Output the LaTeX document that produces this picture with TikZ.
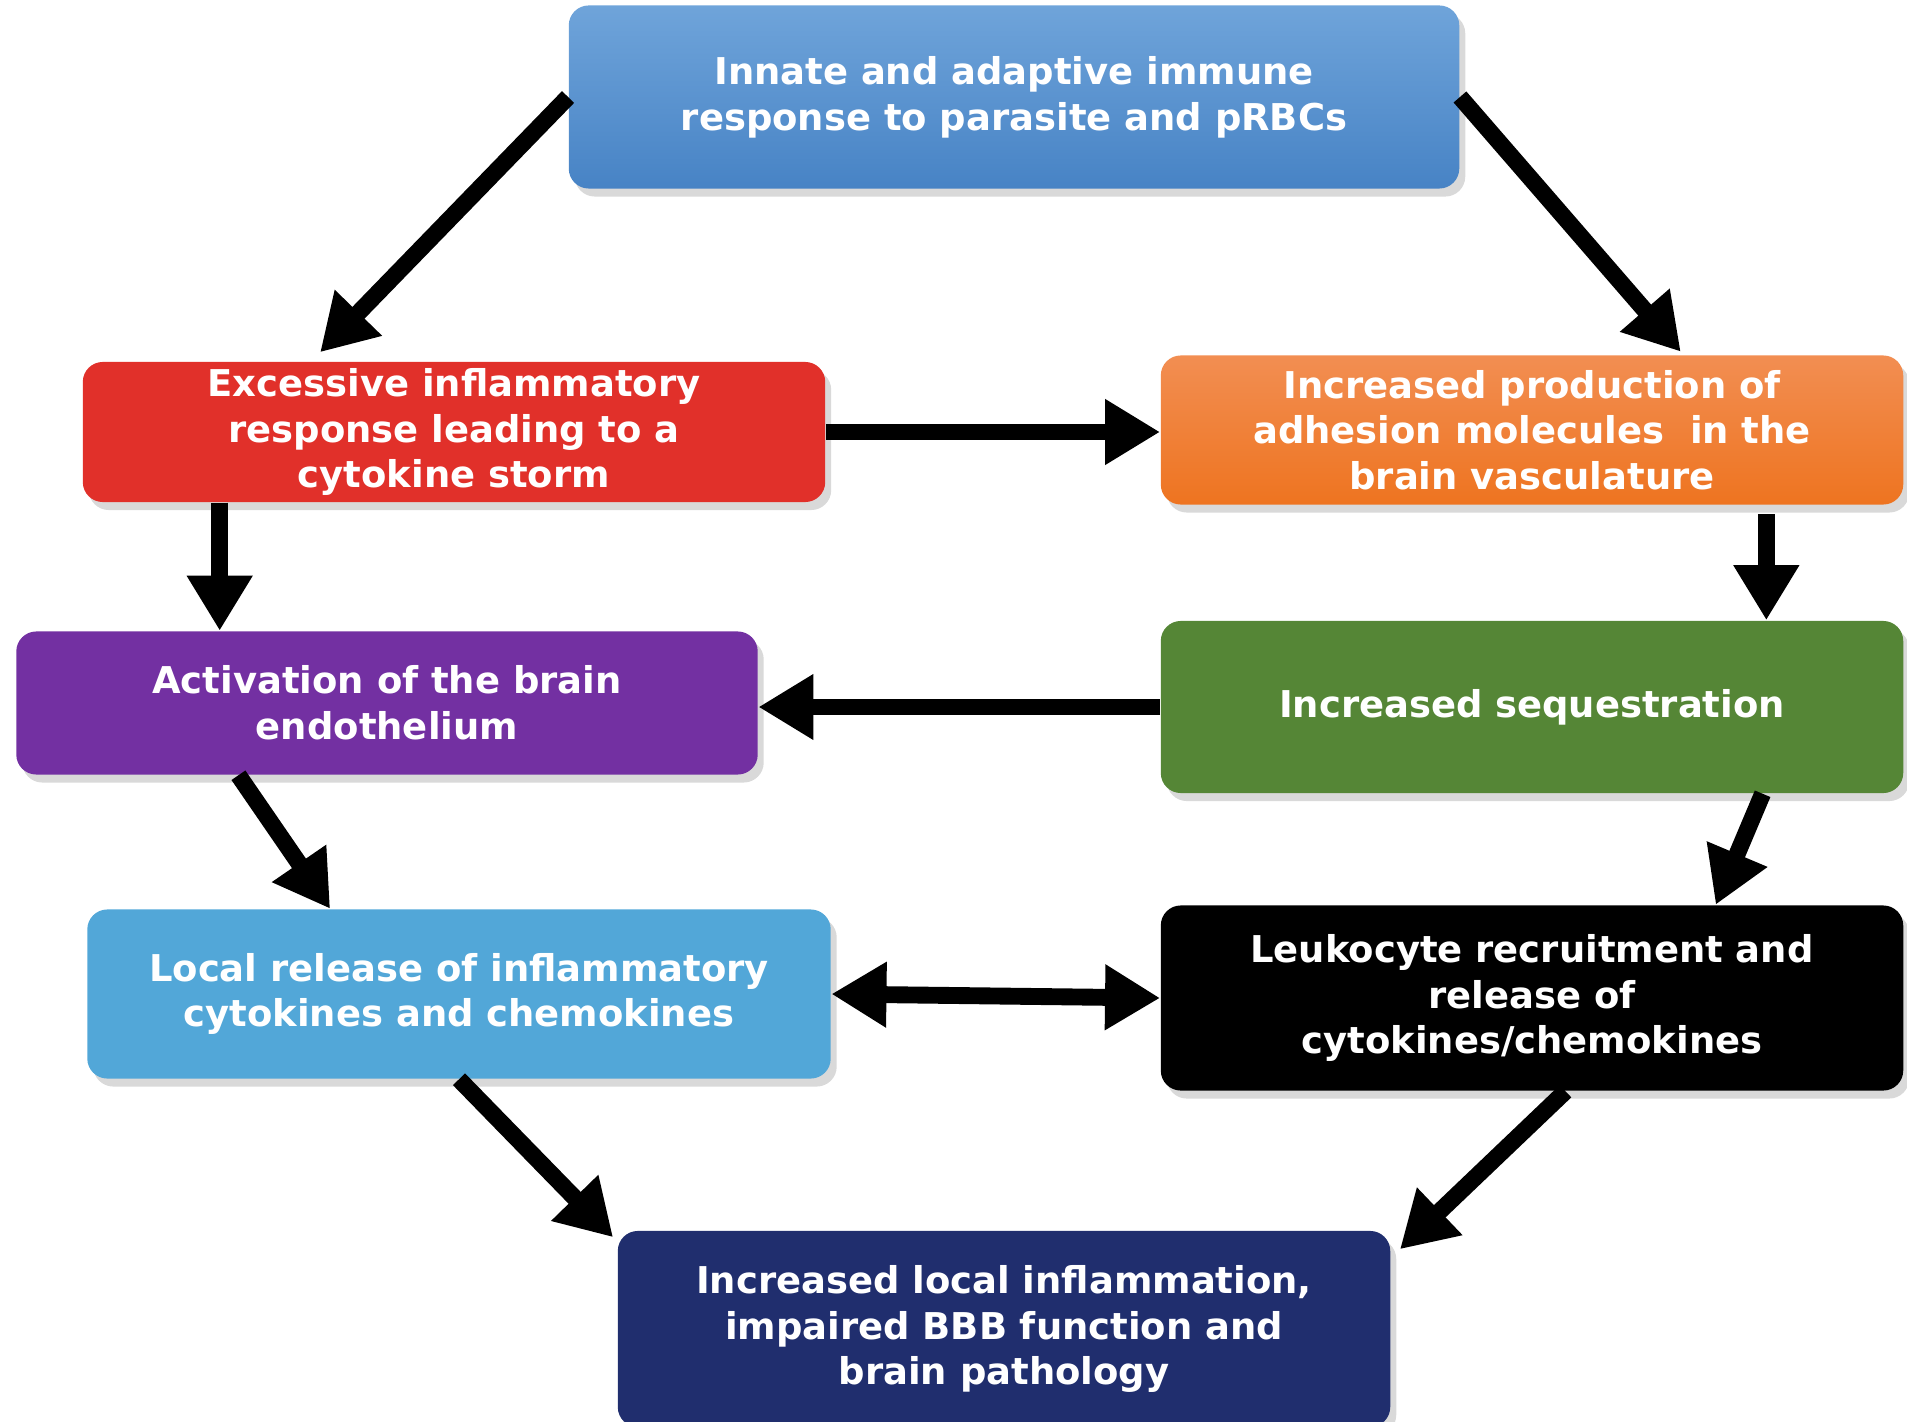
\documentclass[tikz,border=0pt]{standalone}
\usepackage{fontspec}
\setmainfont{DejaVu Sans}
\usetikzlibrary{positioning, calc, shadows, arrows.meta}
\definecolor{topblueA}{HTML}{6FA4DA}
\definecolor{topblueB}{HTML}{4783C5}
\definecolor{stormred}{HTML}{E1302A}
\definecolor{orangeA}{HTML}{F28E52}
\definecolor{orangeB}{HTML}{EE7420}
\definecolor{endopurple}{HTML}{7330A2}
\definecolor{seqgreen}{HTML}{558636}
\definecolor{localblue}{HTML}{52A7D8}
\definecolor{bbbnavy}{HTML}{202E6E}
\tikzset{box/.style={rounded corners=0.2cm, text=white, align=center, inner sep=0pt,
    font=\fontsize{10.5}{13}\selectfont\bfseries,
    drop shadow={opacity=0.3, shadow xshift=0.06cm, shadow yshift=-0.08cm}}}
\tikzset{link/.style={line width=4.8pt, -{Triangle[width=0.62cm, length=0.55cm]}}}
\begin{document}
\begin{tikzpicture}[x=0.01cm, y=-0.01cm]
		\useasboundingbox (0, 0) rectangle (1907, 1422);
		\begin{scope}[every node/.append style={box}]
			\node[top color=topblueA, bottom color=topblueB, minimum width=8.9cm, minimum height=1.83cm] (0) at (1014, 97) {Innate and adaptive immune\\response to parasite and pRBCs};
			\node[fill=stormred, minimum width=7.42cm, minimum height=1.4cm] (1) at (454, 432) {Excessive inflammatory\\response leading to a\\cytokine storm};
			\node[top color=orangeA, bottom color=orangeB, minimum width=7.42cm, minimum height=1.49cm] (2) at (1532, 430) {Increased production of\\adhesion molecules\ \ in the\\brain vasculature};
			\node[fill=endopurple, minimum width=7.41cm, minimum height=1.43cm] (3) at (387, 703) {Activation of the brain\\endothelium};
			\node[fill=seqgreen, minimum width=7.42cm, minimum height=1.72cm] (4) at (1532, 707) {Increased sequestration};
			\node[fill=localblue, minimum width=7.43cm, minimum height=1.69cm] (5) at (459, 994) {Local release of inflammatory\\cytokines and chemokines};
			\node[fill=black, minimum width=7.42cm, minimum height=1.85cm] (6) at (1532, 998) {Leukocyte recruitment and\\release of\\cytokines/chemokines};
			\node[fill=bbbnavy, minimum width=7.72cm, minimum height=1.96cm] (7) at (1004, 1329) {Increased local inflammation,\\impaired BBB function and\\brain pathology};
		\end{scope}

		\draw[link] (0.west) -- ($(1.north west)!0.32!(1.north east)+(0,-9)$);
		\draw[link] (0.east) -- ($(2.north west)!0.70!(2.north east)+(0,-3)$);
		\draw[link] (1.east) -- (2.west |- 1.east);
		\draw[link] ($(1.south west)!0.185!(1.south east)$) coordinate (a) -- (a |- 3.north);
		\draw[link] ($(2.south west)!0.815!(2.south east)+(0,9)$) coordinate (b) -- (b |- 4.north);
		\draw[link] (4.west) -- (3.east |- 4.west);
		\draw[link] ($(3.south west)!0.30!(3.south east)$) -- ($(5.north west)!0.327!(5.north east)$);
		\draw[link] ($(4.south west)!0.81!(4.south east)$) -- ($(6.north west)!0.747!(6.north east)$);
		\draw[link, {Triangle[width=0.62cm, length=0.55cm]}-{Triangle[width=0.62cm, length=0.55cm]}] (5.east) -- (6.west);
		\draw[link] (5.south) -- ($(7.north west)+(-4,7)$);
		\draw[link] ($(6.south west)!0.545!(6.south east)$) -- ($(7.north east)+(9,19)$);
	\end{tikzpicture}
\end{document}
